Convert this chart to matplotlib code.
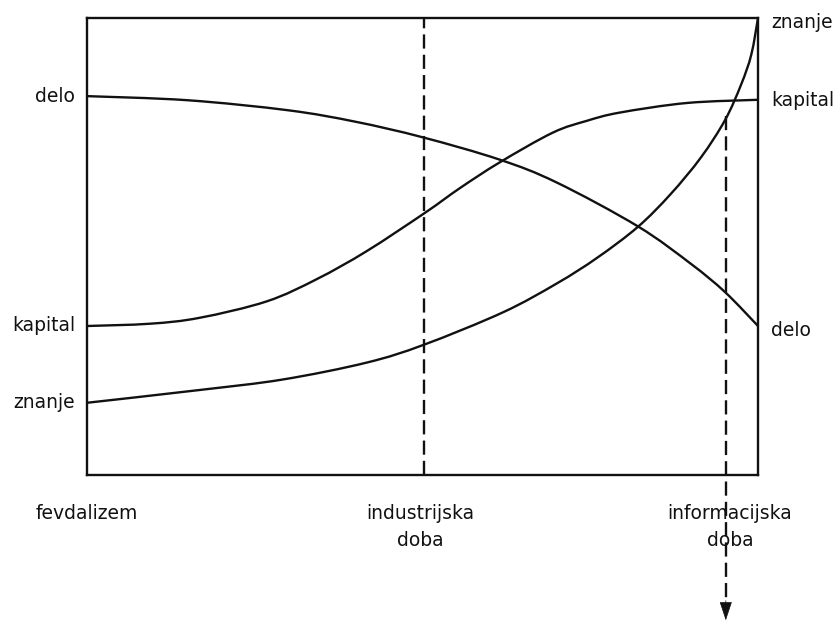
import matplotlib.pyplot as plt
from matplotlib.path import Path
from matplotlib.patches import PathPatch

plt.rcParams['font.family'] = ['DejaVu Sans']

# x: 0 = fevdalizem, 100 = right edge of the box; y: 0..100
delo_x = [0, 15, 30, 40, 50, 61.5, 70, 82.1, 90, 95.1, 100]
delo_y = [82.9, 82.0, 79.8, 77.3, 73.9, 69.0, 64.0, 54.4, 46.2, 40.0, 32.6]

kapital_x = [0, 9.4, 16.8, 26.8, 34.3, 41.7, 50.4, 55.6, 61.5, 69.4, 74.5, 79.4, 89.4, 100]
kapital_y = [32.6, 33.1, 34.4, 38.0, 42.9, 49.0, 57.4, 62.8, 68.4, 74.9, 77.5, 79.3, 81.4, 82.1]

znanje_x = [0, 16.8, 29.2, 41.7, 50.2, 62.0, 70, 76, 82.1, 87, 91.5, 95.1, 97.5, 99, 100]
znanje_y = [15.8, 18.6, 20.9, 24.6, 28.5, 35.6, 41.9, 47.5, 54.3, 61.5, 69.5, 77.7, 85.5, 92.0, 100]

industrijska_x = 50.2
informacijska_x = 95.2
informacijska_top = 78.5

left_labels = ['delo', 'kapital', 'znanje']
left_label_y = [82.9, 32.6, 15.8]
right_labels = ['znanje', 'kapital', 'delo']
right_label_y = [99.0, 82.0, 31.7]

period_labels = ['fevdalizem', 'industrijska\ndoba', 'informacijska\ndoba']
period_x = [-7.7, 49.6, 95.8]


def smooth_path(xs, ys):
    # catmull-rom through the read points, drawn as bezier segments
    verts = [(xs[0], ys[0])]
    codes = [Path.MOVETO]
    n = len(xs)
    for i in range(n - 1):
        x0, y0 = (xs[i - 1], ys[i - 1]) if i > 0 else (xs[i], ys[i])
        x1, y1 = xs[i], ys[i]
        x2, y2 = xs[i + 1], ys[i + 1]
        x3, y3 = (xs[i + 2], ys[i + 2]) if i + 2 < n else (x2, y2)
        c1 = (x1 + (x2 - x0) / 6, y1 + (y2 - y0) / 6)
        c2 = (x2 - (x3 - x1) / 6, y2 - (y3 - y1) / 6)
        verts += [c1, c2, (x2, y2)]
        codes += [Path.CURVE4] * 3
    return Path(verts, codes)


fig = plt.figure(figsize=(8.4, 6.2), dpi=100)
ax = fig.add_axes([0.1036, 0.2339, 0.7988, 0.7371])
ax.set_xlim(0, 100)
ax.set_ylim(0, 100)
ax.set_xticks([])
ax.set_yticks([])
col = '#111111'
for s in ax.spines.values():
    s.set_linewidth(1.7)
    s.set_color(col)

lw = 1.7
for xs, ys in [(delo_x, delo_y), (kapital_x, kapital_y), (znanje_x, znanje_y)]:
    ax.add_patch(PathPatch(smooth_path(xs, ys), facecolor='none', edgecolor=col, lw=lw))

ax.plot([industrijska_x, industrijska_x], [0, 100], color=col, lw=lw,
        dashes=(6.0, 2.6))
ax.plot([informacijska_x, informacijska_x], [informacijska_top, -28],
        color=col, lw=lw, dashes=(6.0, 2.6), clip_on=False)
ax.annotate('', xy=(informacijska_x, -31.8), xytext=(informacijska_x, -27.5),
            xycoords='data', annotation_clip=False,
            arrowprops=dict(arrowstyle='-|>,head_length=1.2,head_width=0.4',
                            color=col, lw=0.5, shrinkA=0, shrinkB=0))

fs = 13.5
for lab, y in zip(left_labels, left_label_y):
    ax.text(-1.8, y, lab, ha='right', va='center', fontsize=fs, color=col, clip_on=False)
for lab, y in zip(right_labels, right_label_y):
    ax.text(102.0, y, lab, ha='left', va='center', fontsize=fs, color=col, clip_on=False)

ax.text(period_x[0], -6.4, period_labels[0], ha='left', va='top', fontsize=fs, color=col)
for lab, x in zip(period_labels[1:], period_x[1:]):
    ax.text(x, -6.4, lab, ha='center', va='top', fontsize=fs, color=col,
            multialignment='center', linespacing=1.55)

fig.savefig('out.png', dpi=100, facecolor='white')
